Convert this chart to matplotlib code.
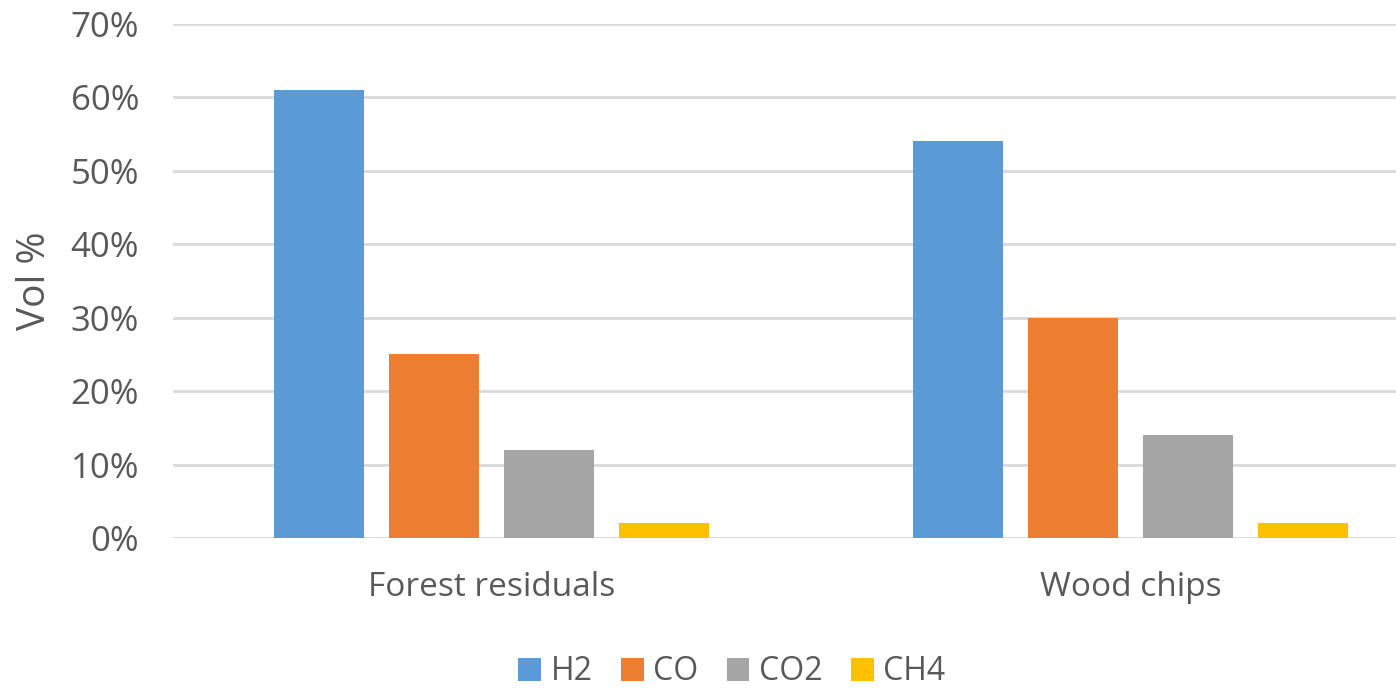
import matplotlib
matplotlib.use("Agg")
import matplotlib.pyplot as plt
from matplotlib.ticker import PercentFormatter
import numpy as np

categories = ["Forest residuals", "Wood chips"]
series = ["H2", "CO", "CO2", "CH4"]
h2 = [61, 54]
co = [25, 30]
co2 = [12, 14]
ch4 = [2, 2]
colors = ["#5b9bd5", "#ed7d31", "#a5a5a5", "#ffc000"]

plt.rcParams['font.family'] = ['Open Sans', 'DejaVu Sans']
txt = "#595959"

fig = plt.figure(figsize=(13.96, 6.9), dpi=100)
ax = fig.add_axes([172.5/1396, (690-538)/690, (1396-172.5)/1396, (538-24)/690])

x = np.arange(len(categories))
w = 0.141
step = 0.18
vals = [h2, co, co2, ch4]
for i, (s, v) in enumerate(zip(series, vals)):
    ax.bar(x + (i - 1.5) * step, v, width=w, color=colors[i], label=s, zorder=3)

ax.set_ylim(0, 70)
ax.set_xlim(-0.5, 1.415)
ax.set_yticks(range(0, 71, 10))
ax.yaxis.set_major_formatter(PercentFormatter(decimals=0))
ax.grid(axis='y', color='#d9d9d9', linewidth=2, zorder=0)
for sp in ax.spines.values():
    sp.set_visible(False)
ax.tick_params(axis='y', length=0, pad=24, labelsize=25, labelcolor=txt)
ax.tick_params(axis='x', length=0, pad=24, labelsize=24, labelcolor=txt)
ax.set_xticks(x)
ax.set_xticklabels(categories)
ax.set_ylabel("Vol %", fontsize=28, color=txt, va='center')
ax.yaxis.set_label_coords(-(172.5-35)/(1396-172.5), (538-281)/(538-24))

leg = fig.legend(loc='center', bbox_to_anchor=(732/1396, 1 - 672/690), ncol=4,
                 frameon=False, fontsize=23, handlelength=0.7, handleheight=0.7,
                 handletextpad=0.3, columnspacing=0.9, labelcolor=txt)

fig.savefig("out.png", dpi=100)
